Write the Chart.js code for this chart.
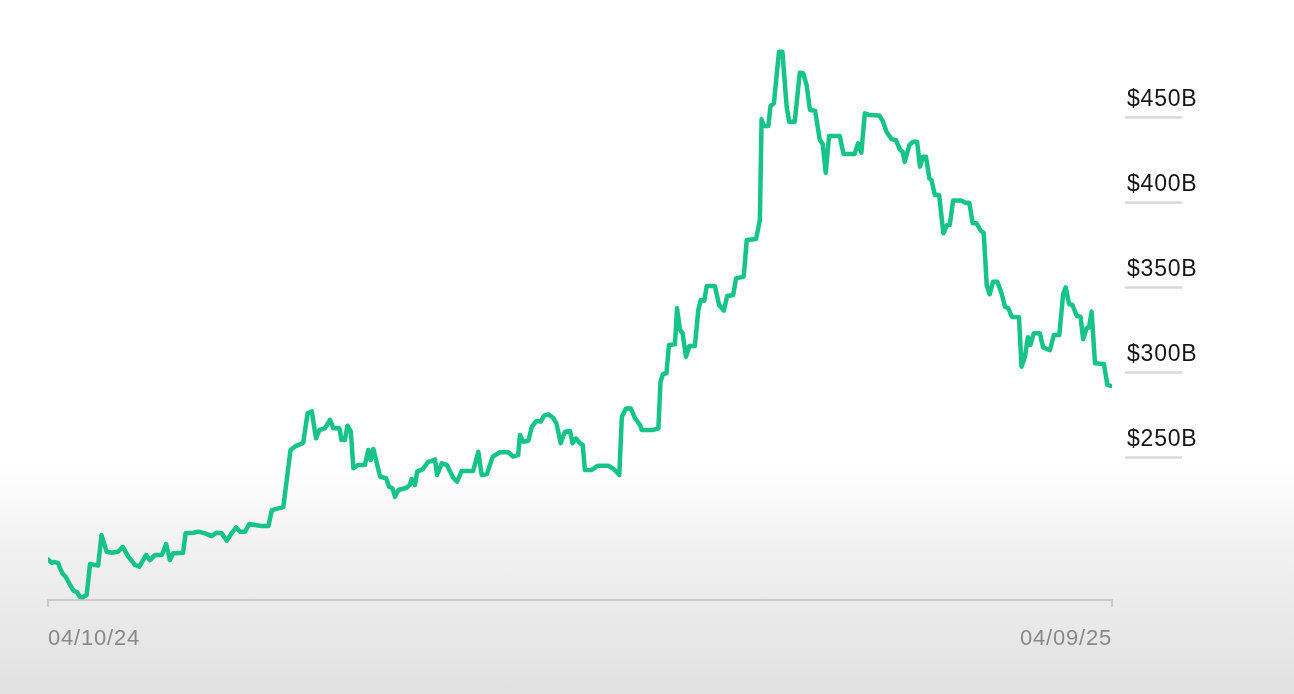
<!DOCTYPE html>
<html>
<head>
<meta charset="utf-8">
<script src="https://cdn.jsdelivr.net/npm/chart.js@4"></script>
<style>
  html, body { margin: 0; padding: 0; }
  body {
    width: 1294px; height: 694px; overflow: hidden;
    background: linear-gradient(to bottom, #ffffff 0%, #ffffff 67%, #f1f1f1 79%, #e1e1e1 100%);
  }
  #chart { display: block; }
</style>
</head>
<body>
<canvas id="chart" width="1294" height="694"></canvas>
<script>
// tick labels
var xTickLabels = ['04/10/24', '04/09/25'];
var yTickValues = [250, 300, 350, 400, 450];

// trading day (from 04/10/24)
var dayIdx = [
  0, 0.9, 1.6, 2.4, 2.8, 3.5, 4.2, 5.2, 6.0, 6.9, 7.5, 8.2, 9.1, 9.9, 11.8, 12.6, 13.8, 15.0, 16.5, 17.6,
  18.9, 20.5, 21.5, 22.4, 23.1, 24.0, 25.2, 26.8, 27.8, 28.7, 29.5, 31.8, 32.4, 34.2, 35.4, 37.0, 38.5, 39.7, 40.9, 42.1,
  43.2, 44.3, 45.2, 46.4, 47.4, 48.7, 50.3, 51.9, 52.7, 54.2, 55.4, 57.1, 58.1, 60.1, 61.1, 62.1, 63.1, 63.9, 65.2, 66.4,
  67.2, 68.6, 69.1, 69.9, 70.5, 71.3, 71.9, 73.0, 74.6, 75.4, 76.0, 76.6, 78.2, 79.6, 80.3, 81.1, 81.7, 82.5, 84.4, 85.2,
  85.6, 86.4, 86.9, 88.3, 89.5, 90.3, 91.1, 91.6, 92.7, 93.9, 95.4, 96.3, 97.4, 100.1, 101.3, 102.1, 103.3, 104.7, 106.4, 108.4,
  109.5, 110.7, 111.1, 111.9, 113.1, 113.9, 115.0, 116.0, 116.8, 117.8, 118.9, 119.7, 120.7, 121.7, 122.9, 123.5, 124.3, 125.2, 125.9, 126.4,
  128.0, 129.5, 131.9, 133.2, 134.5, 135.1, 136.1, 137.2, 138.2, 139.4, 139.8, 142.5, 143.7, 144.2, 144.8, 145.6, 146.2, 147.6, 148.1, 148.8,
  149.4, 150.2, 151.0, 152.3, 153.1, 153.7, 154.5, 155.1, 157.0, 158.0, 159.1, 159.9, 161.3, 162.0, 163.8, 164.5, 166.7, 167.2, 167.6, 168.0,
  168.5, 169.6, 170.1, 170.9, 172.1, 172.9, 173.9, 174.5, 175.8, 177.0, 177.8, 178.6, 179.4, 180.6, 181.7, 182.4, 183.1, 183.9, 186.4, 187.3,
  189.9, 190.7, 191.5, 192.3, 193.3, 195.7, 196.5, 197.4, 198.6, 199.6, 200.6, 201.2, 201.7, 202.8, 203.7, 204.6, 205.3, 206.0, 206.7, 207.5,
  208.0, 208.8, 209.8, 210.8, 211.7, 212.3, 213.1, 215.1, 215.9, 216.9, 217.7, 218.6, 219.6, 220.3, 221.0, 221.7, 222.5, 223.5, 224.5, 225.3,
  226.1, 226.9, 228.6, 229.2, 230.0, 230.7, 231.3, 232.1, 233.5, 234.3, 235.9, 236.8, 238.1, 239.0, 239.6, 240.4, 241.2, 242.2, 243.1, 243.7,
  244.5, 245.1, 245.7, 246.5, 248.6, 249.4, 250.2
];

// market cap, $B
var marketCapB = [
  189.8, 187.8, 188.2, 187.6, 184.7, 181.2, 179.4, 174.7, 171.4, 170.4, 167.8, 167.5, 168.8, 187.1, 186.1, 204.1, 194.3, 193.7, 194.3, 197.2,
  191.4, 186.5, 185.5, 189.4, 192.4, 189.4, 192.4, 192.4, 198.8, 189.4, 193.4, 193.7, 205.1, 205.5, 206.1, 205.1, 203.5, 205.5, 205.1, 200.8,
  205.1, 208.6, 206.1, 206.1, 210.6, 210.0, 209.4, 209.4, 218.8, 219.8, 220.4, 254.1, 256.1, 258.4, 275.7, 276.8, 261.0, 265.9, 266.9, 271.8,
  266.9, 266.9, 260.0, 260.0, 268.4, 264.9, 243.4, 245.3, 245.3, 254.1, 248.2, 254.7, 238.4, 237.5, 232.5, 231.6, 226.6, 230.6, 231.9, 233.5,
  237.1, 233.5, 241.4, 242.9, 247.2, 247.6, 248.6, 239.4, 246.3, 245.3, 237.8, 235.5, 241.8, 241.8, 253.1, 239.4, 239.8, 250.2, 252.8, 252.8,
  250.2, 251.2, 262.9, 259.0, 259.6, 267.8, 271.2, 270.8, 274.3, 275.1, 273.1, 269.8, 258.1, 264.9, 265.3, 258.1, 261.0, 258.1, 257.1, 242.4,
  242.4, 244.9, 244.9, 242.9, 239.4, 273.7, 278.6, 278.6, 272.8, 268.8, 265.9, 265.9, 266.9, 294.3, 298.8, 299.2, 315.9, 316.3, 337.5, 324.7,
  322.8, 309.0, 315.3, 315.3, 336.5, 342.4, 341.9, 350.6, 350.6, 339.4, 336.1, 344.7, 345.3, 355.1, 356.1, 377.6, 378.2, 384.5, 389.4, 448.6,
  444.7, 444.7, 456.5, 458.1, 488.4, 488.4, 456.1, 447.2, 447.2, 476.0, 475.7, 468.8, 454.1, 453.7, 436.5, 434.1, 417.2, 438.8, 438.8, 428.2,
  428.2, 434.5, 429.0, 452.2, 451.2, 450.8, 447.8, 441.3, 436.9, 436.5, 430.6, 429.6, 423.7, 433.5, 435.5, 435.5, 420.8, 426.6, 426.6, 413.9,
  412.9, 404.1, 404.1, 381.6, 386.5, 386.5, 400.8, 400.8, 399.6, 399.6, 387.5, 387.5, 383.1, 381.9, 351.2, 345.7, 353.1, 353.1, 346.3, 338.4,
  337.5, 332.5, 332.2, 303.1, 309.0, 320.4, 315.9, 322.8, 322.8, 314.5, 312.9, 321.8, 321.8, 345.9, 349.8, 340.0, 339.4, 332.9, 332.5, 319.2,
  325.7, 326.3, 335.5, 305.1, 304.7, 292.4, 291.8
];

var LINE_GREEN = '#17c487';

// short grey rules under each value label on the right
var labelRules = {
  id: 'labelRules',
  beforeDraw: function(chart) {
    chart.ctx.letterSpacing = '0.8px';
  },
  afterDraw: function(chart) {
    var ctx = chart.ctx;
    var ys = chart.scales.y;
    var x0 = chart.chartArea.right + 13;
    ctx.save();
    ctx.strokeStyle = '#d8d8d8';
    ctx.lineWidth = 2.5;
    ys.ticks.forEach(function(t) {
      var y = Math.round(ys.getPixelForValue(t.value)) + 0.5;
      ctx.beginPath();
      ctx.moveTo(x0, y);
      ctx.lineTo(x0 + 57, y);
      ctx.stroke();
    });
    ctx.restore();
  }
};

var ctx = document.getElementById('chart').getContext('2d');
var chart = new Chart(ctx, {
  type: 'line',
  data: {
    datasets: [{
      data: dayIdx.map(function(d, i) { return { x: d, y: marketCapB[i] }; }),
      borderColor: LINE_GREEN,
      borderWidth: 4.5,
      borderJoinStyle: 'round',
      borderCapStyle: 'round',
      pointRadius: 0,
      tension: 0,
      fill: false
    }]
  },
  options: {
    responsive: false,
    animation: false,
    layout: { padding: { left: 48, top: 0, right: 0, bottom: 0 } },
    plugins: { legend: { display: false }, tooltip: { enabled: false } },
    scales: {
      x: {
        type: 'linear',
        min: 0,
        max: 250.5,
        afterBuildTicks: function(scale) {
          scale.ticks = [{ value: 0 }, { value: 250.5 }];
        },
        afterFit: function(scale) {
          scale.height = 94;
          scale.paddingLeft = 0;
          scale.paddingRight = 0;
        },
        grid: { drawOnChartArea: false, drawTicks: true, tickLength: 7, color: '#cbcbcb', lineWidth: 2 },
        border: { display: true, color: '#cbcbcb', width: 2 },
        ticks: {
          align: 'inner',
          maxRotation: 0,
          padding: 19,
          color: '#888888',
          font: { family: 'Liberation Sans, Arial, sans-serif', size: 22 },
          callback: function(v, i) { return xTickLabels[i]; }
        }
      },
      y: {
        position: 'right',
        min: 165.9,
        max: 518.8,
        afterBuildTicks: function(scale) {
          scale.ticks = yTickValues.map(function(v) { return { value: v }; });
        },
        afterFit: function(scale) {
          scale.width = 182;
          scale.paddingTop = 0;
          scale.paddingBottom = 0;
        },
        grid: { display: false, drawTicks: false },
        border: { display: false },
        ticks: {
          crossAlign: 'near',
          padding: 15,
          labelOffset: -17,
          color: '#161616',
          font: { family: 'Liberation Sans, Arial, sans-serif', size: 23 },
          callback: function(v) { return '$' + v + 'B'; }
        }
      }
    }
  },
  plugins: [labelRules]
});
</script>
</body>
</html>
